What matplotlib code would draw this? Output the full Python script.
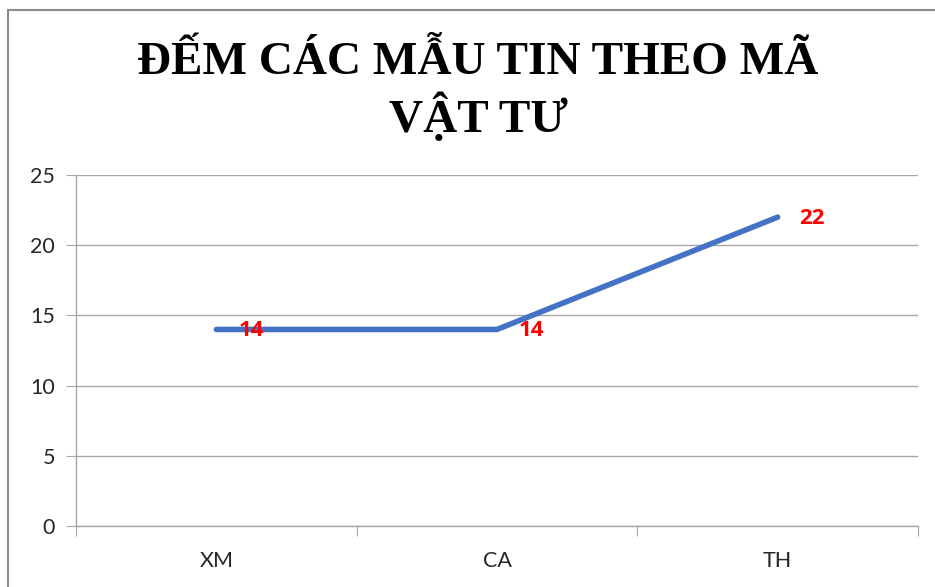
import matplotlib
matplotlib.use("Agg")
import matplotlib.pyplot as plt
from matplotlib.patches import Rectangle

categories = ["XM", "CA", "TH"]
counts = [14, 14, 22]
y_ticks = [0, 5, 10, 15, 20, 25]
title = "ĐẾM CÁC MẪU TIN THEO MÃ\nVẬT TƯ"

fig = plt.figure(figsize=(9.35, 5.87), dpi=100)
ax = fig.add_axes([76 / 935, 1 - 526 / 587, (918 - 76) / 935, (526 - 175) / 587])

# chart border (only top and left visible in the crop)
fig.patches.append(Rectangle((8 / 935, -0.1), 1.2, 1 - 10 / 587 + 0.1,
                             transform=fig.transFigure, fill=False,
                             edgecolor="#8c8c8c", linewidth=1.5))

x = list(range(len(categories)))
ax.plot(x, counts, color="#4472C4", linewidth=4, solid_capstyle="round",
        solid_joinstyle="miter", zorder=3)

for xi, v in zip(x, counts):
    ax.annotate(str(v), (xi, v), xytext=(22, -1), textcoords="offset pixels",
                ha="left", va="center", color="red", fontsize=16,
                fontweight="bold", family="Open Sans", zorder=4)

ax.set_xlim(-0.5, len(categories) - 0.5)
ax.set_ylim(0, 25)
ax.set_yticks(y_ticks)
ax.yaxis.grid(True, color="#a6a6a6", linewidth=1)
ax.set_axisbelow(True)

ax.set_xticks([i - 0.5 for i in range(len(categories) + 1)])
ax.set_xticklabels([])
ax.set_xticks(x, minor=True)
ax.set_xticklabels(categories, minor=True)
ax.tick_params(axis="x", which="major", length=7, color="#a6a6a6", direction="out")
ax.tick_params(axis="x", which="minor", length=0, pad=18, labelsize=15.5,
               labelcolor="#262626")
ax.tick_params(axis="y", length=7, color="#a6a6a6", labelsize=15.5,
               labelcolor="#262626", pad=8)
for lbl in ax.get_xticklabels(minor=True) + ax.get_yticklabels():
    lbl.set_family("Lato")

for side in ["top", "right"]:
    ax.spines[side].set_visible(False)
for side in ["left", "bottom"]:
    ax.spines[side].set_color("#a6a6a6")
    ax.spines[side].set_linewidth(1)

fig.text(478 / 935, 1 - 92 / 587, title, ha="center", va="center",
         family="Liberation Serif", fontweight="bold", fontsize=34,
         linespacing=1.2)

fig.savefig("out.png", dpi=100)
